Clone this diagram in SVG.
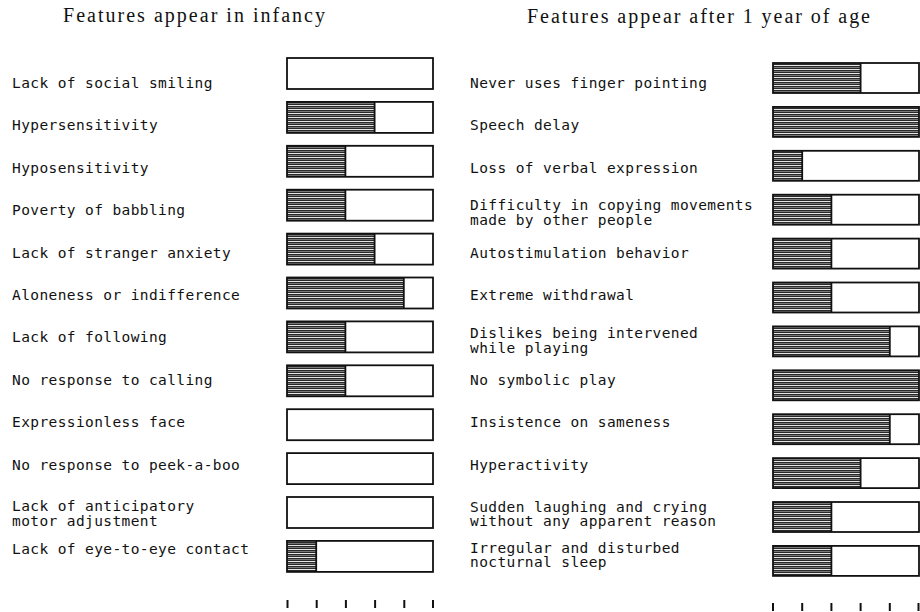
<svg xmlns="http://www.w3.org/2000/svg" width="920" height="612" viewBox="0 0 920 612">
<defs>
<pattern id="hatch" patternUnits="userSpaceOnUse" width="8" height="4">
<rect width="8" height="4" fill="#2a2a2a"/>
<rect y="1" width="8" height="1" fill="#e6e6e6"/>
<rect y="3" width="8" height="0.8" fill="#8a8a8a"/>
</pattern>
</defs>
<style>
.title{font-family:"Liberation Serif","Times New Roman",serif;font-size:20px;fill:#111}
.lbl{font-family:"DejaVu Sans Mono","Liberation Mono",monospace;font-size:14.5px;letter-spacing:0.4px;fill:#111}
.box{fill:none;stroke:#111;stroke-width:1.8}
.fill{fill:url(#hatch)}
.div{stroke:#111;stroke-width:1.8}
.tick{stroke:#111;stroke-width:2}
</style>
<rect width="920" height="612" fill="#fff"/>
<text class="title" x="63" y="22" textLength="262" lengthAdjust="spacing">Features appear in infancy</text>
<text class="title" x="527" y="23" textLength="343" lengthAdjust="spacing">Features appear after 1 year of age</text>

<g id="left-rows">
<g id="L1"><text class="lbl" x="12" y="88">Lack of social smiling</text><rect class="box" x="287" y="58" width="146" height="31"/></g>
<g id="L2"><text class="lbl" x="12" y="130.4">Hypersensitivity</text><rect class="fill" x="287" y="101.9" width="87.6" height="31"/><line class="div" x1="374.6" y1="101.9" x2="374.6" y2="132.9"/><rect class="box" x="287" y="101.9" width="146" height="31"/></g>
<g id="L3"><text class="lbl" x="12" y="172.8">Hyposensitivity</text><rect class="fill" x="287" y="145.8" width="58.4" height="31"/><line class="div" x1="345.4" y1="145.8" x2="345.4" y2="176.8"/><rect class="box" x="287" y="145.8" width="146" height="31"/></g>
<g id="L4"><text class="lbl" x="12" y="215.2">Poverty of babbling</text><rect class="fill" x="287" y="189.7" width="58.4" height="31"/><line class="div" x1="345.4" y1="189.7" x2="345.4" y2="220.7"/><rect class="box" x="287" y="189.7" width="146" height="31"/></g>
<g id="L5"><text class="lbl" x="12" y="257.6">Lack of stranger anxiety</text><rect class="fill" x="287" y="233.6" width="87.6" height="31"/><line class="div" x1="374.6" y1="233.6" x2="374.6" y2="264.6"/><rect class="box" x="287" y="233.6" width="146" height="31"/></g>
<g id="L6"><text class="lbl" x="12" y="300">Aloneness or indifference</text><rect class="fill" x="287" y="277.5" width="116.8" height="31"/><line class="div" x1="403.8" y1="277.5" x2="403.8" y2="308.5"/><rect class="box" x="287" y="277.5" width="146" height="31"/></g>
<g id="L7"><text class="lbl" x="12" y="342.4">Lack of following</text><rect class="fill" x="287" y="321.4" width="58.4" height="31"/><line class="div" x1="345.4" y1="321.4" x2="345.4" y2="352.4"/><rect class="box" x="287" y="321.4" width="146" height="31"/></g>
<g id="L8"><text class="lbl" x="12" y="384.8">No response to calling</text><rect class="fill" x="287" y="365.3" width="58.4" height="31"/><line class="div" x1="345.4" y1="365.3" x2="345.4" y2="396.3"/><rect class="box" x="287" y="365.3" width="146" height="31"/></g>
<g id="L9"><text class="lbl" x="12" y="427.2">Expressionless face</text><rect class="box" x="287" y="409.2" width="146" height="31"/></g>
<g id="L10"><text class="lbl" x="12" y="469.6">No response to peek-a-boo</text><rect class="box" x="287" y="453.1" width="146" height="31"/></g>
<g id="L11"><text class="lbl" x="12" y="511">Lack of anticipatory</text><text class="lbl" x="12" y="525.5">motor adjustment</text><rect class="box" x="287" y="497" width="146" height="31"/></g>
<g id="L12"><text class="lbl" x="12" y="554.4">Lack of eye-to-eye contact</text><rect class="fill" x="287" y="540.9" width="29.2" height="31"/><line class="div" x1="316.2" y1="540.9" x2="316.2" y2="571.9"/><rect class="box" x="287" y="540.9" width="146" height="31"/></g>
</g>

<g id="right-rows">
<g id="R1"><text class="lbl" x="470" y="88">Never uses finger pointing</text><rect class="fill" x="773" y="63" width="87.6" height="30"/><line class="div" x1="860.6" y1="63" x2="860.6" y2="93"/><rect class="box" x="773" y="63" width="146" height="30"/></g>
<g id="R2"><text class="lbl" x="470" y="130.4">Speech delay</text><rect class="fill" x="773" y="106.9" width="146" height="30"/><rect class="box" x="773" y="106.9" width="146" height="30"/></g>
<g id="R3"><text class="lbl" x="470" y="172.8">Loss of verbal expression</text><rect class="fill" x="773" y="150.8" width="29.2" height="30"/><line class="div" x1="802.2" y1="150.8" x2="802.2" y2="180.8"/><rect class="box" x="773" y="150.8" width="146" height="30"/></g>
<g id="R4"><text class="lbl" x="470" y="210">Difficulty in copying movements</text><text class="lbl" x="470" y="224.5">made by other people</text><rect class="fill" x="773" y="194.7" width="58.4" height="30"/><line class="div" x1="831.4" y1="194.7" x2="831.4" y2="224.7"/><rect class="box" x="773" y="194.7" width="146" height="30"/></g>
<g id="R5"><text class="lbl" x="470" y="257.6">Autostimulation behavior</text><rect class="fill" x="773" y="238.6" width="58.4" height="30"/><line class="div" x1="831.4" y1="238.6" x2="831.4" y2="268.6"/><rect class="box" x="773" y="238.6" width="146" height="30"/></g>
<g id="R6"><text class="lbl" x="470" y="300">Extreme withdrawal</text><rect class="fill" x="773" y="282.5" width="58.4" height="30"/><line class="div" x1="831.4" y1="282.5" x2="831.4" y2="312.5"/><rect class="box" x="773" y="282.5" width="146" height="30"/></g>
<g id="R7"><text class="lbl" x="470" y="338">Dislikes being intervened</text><text class="lbl" x="470" y="352.5">while playing</text><rect class="fill" x="773" y="326.4" width="116.8" height="30"/><line class="div" x1="889.8" y1="326.4" x2="889.8" y2="356.4"/><rect class="box" x="773" y="326.4" width="146" height="30"/></g>
<g id="R8"><text class="lbl" x="470" y="384.8">No symbolic play</text><rect class="fill" x="773" y="370.3" width="146" height="30"/><rect class="box" x="773" y="370.3" width="146" height="30"/></g>
<g id="R9"><text class="lbl" x="470" y="427.2">Insistence on sameness</text><rect class="fill" x="773" y="414.2" width="116.8" height="30"/><line class="div" x1="889.8" y1="414.2" x2="889.8" y2="444.2"/><rect class="box" x="773" y="414.2" width="146" height="30"/></g>
<g id="R10"><text class="lbl" x="470" y="469.6">Hyperactivity</text><rect class="fill" x="773" y="458.1" width="87.6" height="30"/><line class="div" x1="860.6" y1="458.1" x2="860.6" y2="488.1"/><rect class="box" x="773" y="458.1" width="146" height="30"/></g>
<g id="R11"><text class="lbl" x="470" y="511.5">Sudden laughing and crying</text><text class="lbl" x="470" y="526">without any apparent reason</text><rect class="fill" x="773" y="502" width="58.4" height="30"/><line class="div" x1="831.4" y1="502" x2="831.4" y2="532"/><rect class="box" x="773" y="502" width="146" height="30"/></g>
<g id="R12"><text class="lbl" x="470" y="552.5">Irregular and disturbed</text><text class="lbl" x="470" y="567">nocturnal sleep</text><rect class="fill" x="773" y="545.9" width="58.4" height="30"/><line class="div" x1="831.4" y1="545.9" x2="831.4" y2="575.9"/><rect class="box" x="773" y="545.9" width="146" height="30"/></g>
</g>

<g id="axis-ticks">
<line class="tick" x1="287.5" y1="600" x2="287.5" y2="608"/>
<line class="tick" x1="316.7" y1="600" x2="316.7" y2="608"/>
<line class="tick" x1="345.9" y1="600" x2="345.9" y2="608"/>
<line class="tick" x1="375.1" y1="600" x2="375.1" y2="608"/>
<line class="tick" x1="404.3" y1="600" x2="404.3" y2="608"/>
<line class="tick" x1="433" y1="600" x2="433" y2="608"/>
<line class="tick" x1="773" y1="603" x2="773" y2="611"/>
<line class="tick" x1="802.2" y1="603" x2="802.2" y2="611"/>
<line class="tick" x1="831.4" y1="603" x2="831.4" y2="611"/>
<line class="tick" x1="860.6" y1="603" x2="860.6" y2="611"/>
<line class="tick" x1="889.8" y1="603" x2="889.8" y2="611"/>
<line class="tick" x1="918.5" y1="603" x2="918.5" y2="611"/>
</g>
<g id="connectors"/>
</svg>
